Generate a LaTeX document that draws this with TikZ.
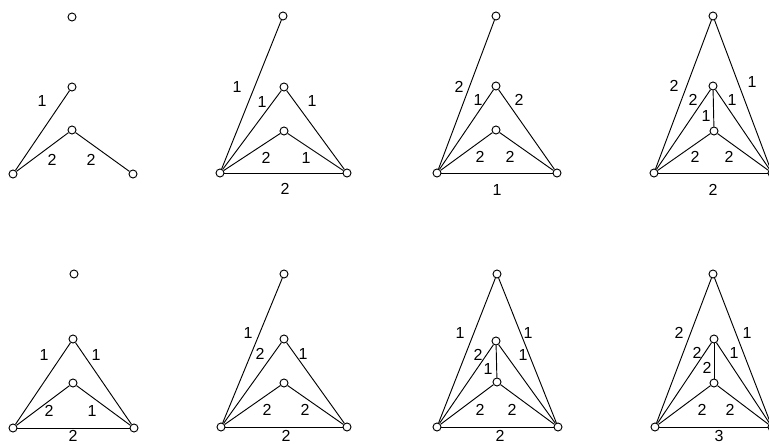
\documentclass[tikz,border=0pt]{standalone}
\usepackage{fontspec}
\setmainfont{Liberation Sans}
\usepackage{tikz}

\begin{document}
\begin{tikzpicture}[x=0.75pt, y=-0.75pt, line width=0.7pt,
    vtx/.style={draw, circle, fill=white, inner sep=0pt, minimum size=6pt, line width=0.7pt},
    lbl/.style={inner sep=0pt, font=\fontsize{12}{14}\selectfont}]
    \useasboundingbox (0,0) rectangle (769,445);

    % top row, first graph
    \node[vtx] (t1) at (72,17) {};
    \node[vtx] (m1) at (72,87) {};
    \node[vtx] (i1) at (72,130) {};
    \node[vtx] (l1) at (13,174) {};
    \node[vtx] (r1) at (133,174) {};
    \draw (l1) -- (m1);
    \draw (l1) -- (i1) -- (r1);
    \node[lbl] at (42,101) {1};
    \node[lbl] at (52,160) {2};
    \node[lbl] at (91,160) {2};

    % top row, second graph
    \node[vtx] (t2) at (283,16) {};
    \node[vtx] (m2) at (284,87) {};
    \node[vtx] (i2) at (284,131) {};
    \node[vtx] (l2) at (220,173) {};
    \node[vtx] (r2) at (347,173) {};
    \draw (l2) -- (t2);
    \draw (l2) -- (m2) -- (r2);
    \draw (l2) -- (i2) -- (r2);
    \draw (l2) -- (r2);
    \node[lbl] at (237,87) {1};
    \node[lbl] at (262,102) {1};
    \node[lbl] at (312,101) {1};
    \node[lbl] at (266,158) {2};
    \node[lbl] at (306,158) {1};
    \node[lbl] at (285,189) {2};

    % top row, third graph
    \node[vtx] (t3) at (496,16) {};
    \node[vtx] (m3) at (496,86) {};
    \node[vtx] (i3) at (496,130) {};
    \node[vtx] (l3) at (437,173) {};
    \node[vtx] (r3) at (557,173) {};
    \draw (l3) -- (t3);
    \draw (l3) -- (m3) -- (r3);
    \draw (l3) -- (i3) -- (r3);
    \draw (l3) -- (r3);
    \node[lbl] at (459,87) {2};
    \node[lbl] at (478,100) {1};
    \node[lbl] at (519,100) {2};
    \node[lbl] at (480,157) {2};
    \node[lbl] at (510,157) {2};
    \node[lbl] at (497,190) {1};

    % top row, fourth graph
    \node[vtx] (t4) at (713,16) {};
    \node[vtx] (m4) at (713,86) {};
    \node[vtx] (i4) at (714,131) {};
    \node[vtx] (l4) at (654,173) {};
    \node[vtx] (r4) at (772,173) {};
    \draw (l4) -- (t4) -- (r4);
    \draw (l4) -- (m4) -- (r4);
    \draw (m4) -- (i4);
    \draw (l4) -- (i4) -- (r4);
    \draw (l4) -- (r4);
    \node[lbl] at (674,86) {2};
    \node[lbl] at (752,82) {1};
    \node[lbl] at (693,100) {2};
    \node[lbl] at (732,100) {1};
    \node[lbl] at (706,116) {1};
    \node[lbl] at (695,157) {2};
    \node[lbl] at (729,157) {2};
    \node[lbl] at (713,190) {2};

    % bottom row, first graph
    \node[vtx] (t5) at (74,274) {};
    \node[vtx] (m5) at (73,339) {};
    \node[vtx] (i5) at (73,383) {};
    \node[vtx] (l5) at (13,428) {};
    \node[vtx] (r5) at (134,428) {};
    \draw (l5) -- (m5) -- (r5);
    \draw (l5) -- (i5) -- (r5);
    \draw (l5) -- (r5);
    \node[lbl] at (44,355) {1};
    \node[lbl] at (96,355) {1};
    \node[lbl] at (49,411) {2};
    \node[lbl] at (92,411) {1};
    \node[lbl] at (73,436) {2};

    % bottom row, second graph
    \node[vtx] (t6) at (284,274) {};
    \node[vtx] (m6) at (284,339) {};
    \node[vtx] (i6) at (284,383) {};
    \node[vtx] (l6) at (221,427) {};
    \node[vtx] (r6) at (347,427) {};
    \draw (l6) -- (t6);
    \draw (l6) -- (m6) -- (r6);
    \draw (l6) -- (i6) -- (r6);
    \draw (l6) -- (r6);
    \node[lbl] at (248,333) {1};
    \node[lbl] at (260,354) {2};
    \node[lbl] at (303,354) {1};
    \node[lbl] at (267,410) {2};
    \node[lbl] at (305,410) {2};
    \node[lbl] at (286,436) {2};

    % bottom row, third graph
    \node[vtx] (t7) at (497,274) {};
    \node[vtx] (m7) at (496,341) {};
    \node[vtx] (i7) at (497,382) {};
    \node[vtx] (l7) at (437,427) {};
    \node[vtx] (r7) at (558,427) {};
    \draw (l7) -- (t7) -- (r7);
    \draw (l7) -- (m7) -- (r7);
    \draw (m7) -- (i7);
    \draw (l7) -- (i7) -- (r7);
    \draw (l7) -- (r7);
    \node[lbl] at (460,333) {1};
    \node[lbl] at (528,333) {1};
    \node[lbl] at (478,355) {2};
    \node[lbl] at (523,355) {1};
    \node[lbl] at (488,369) {1};
    \node[lbl] at (480,410) {2};
    \node[lbl] at (512,410) {2};
    \node[lbl] at (500,436) {2};

    % bottom row, fourth graph
    \node[vtx] (t8) at (713,274) {};
    \node[vtx] (m8) at (714,339) {};
    \node[vtx] (i8) at (714,383) {};
    \node[vtx] (l8) at (655,427) {};
    \node[vtx] (r8) at (772,427) {};
    \draw (l8) -- (t8) -- (r8);
    \draw (l8) -- (m8) -- (r8);
    \draw (m8) -- (i8);
    \draw (l8) -- (i8) -- (r8);
    \draw (l8) -- (r8);
    \node[lbl] at (679,333) {2};
    \node[lbl] at (747,333) {1};
    \node[lbl] at (697,353) {2};
    \node[lbl] at (734,353) {1};
    \node[lbl] at (707,368) {2};
    \node[lbl] at (702,410) {2};
    \node[lbl] at (730,410) {2};
    \node[lbl] at (719,436) {3};
\end{tikzpicture}
\end{document}
